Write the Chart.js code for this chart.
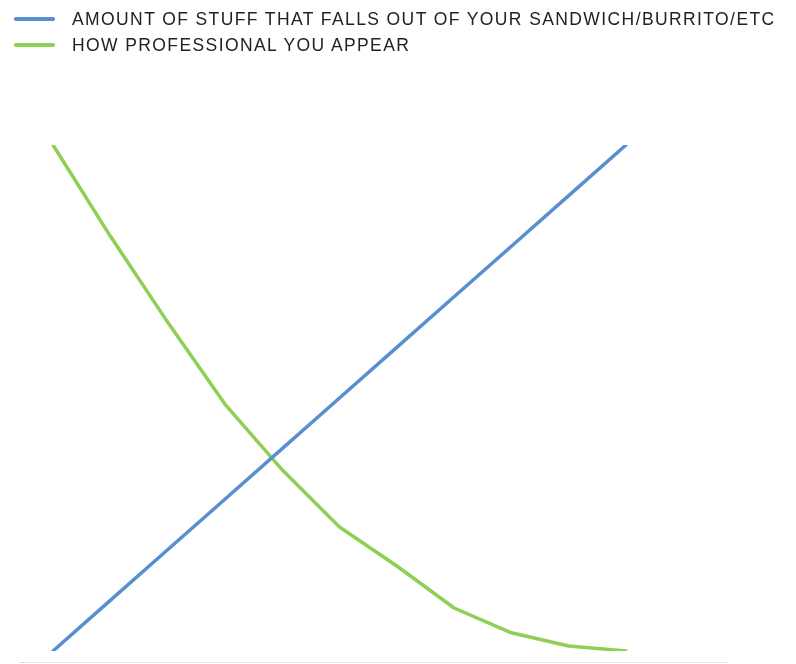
<!DOCTYPE html>
<html>
<head>
<meta charset="utf-8">
<script src="https://cdn.jsdelivr.net/npm/chart.js@4"></script>
<style>
  html, body { margin: 0; padding: 0; background: #fff; }
  #wrap { position: relative; width: 796px; height: 664px; overflow: hidden; }
  #legend { position: absolute; left: 14px; top: 6px; font-family: "Liberation Sans", Arial, sans-serif; font-size: 17.5px; letter-spacing: 1.4px; color: #222; white-space: nowrap; }
  .item { display: flex; align-items: center; height: 26px; }
  .sw { width: 41px; height: 3.5px; border-radius: 1.75px; margin-right: 17px; flex: none; }
  #baseline { position: absolute; left: 20px; width: 708px; top: 662px; border-top: 1px dotted #c8c8c8; }
  canvas { position: absolute; left: 0; top: 0; }
</style>
</head>
<body>
<div id="wrap">
  <canvas id="c" width="796" height="664"></canvas>
  <div id="legend"></div>
  <div id="baseline"></div>
</div>
<script>
const categories = ["0","1","2","3","4","5","6","7","8","9","10"];
const stuffFallsOut = [0, 1, 2, 3, 4, 5, 6, 7, 8, 9, 10];
const professional = [10, 8.2, 6.5, 4.88, 3.58, 2.45, 1.68, 0.85, 0.36, 0.1, 0];
const seriesNames = ["AMOUNT OF STUFF THAT FALLS OUT OF YOUR SANDWICH/BURRITO/ETC", "HOW PROFESSIONAL YOU APPEAR"];
const seriesColors = ["#5a8fcf", "#8ecf55"];

const chart = new Chart(document.getElementById('c'), {
  type: 'line',
  data: {
    labels: categories,
    datasets: [
      { label: seriesNames[0], data: stuffFallsOut, borderColor: seriesColors[0], backgroundColor: seriesColors[0], borderWidth: 3.5, pointRadius: 0, tension: 0, borderCapStyle: 'round', borderJoinStyle: 'round' },
      { label: seriesNames[1], data: professional, borderColor: seriesColors[1], backgroundColor: seriesColors[1], borderWidth: 3.5, pointRadius: 0, tension: 0, borderCapStyle: 'round', borderJoinStyle: 'round' }
    ]
  },
  options: {
    responsive: false,
    animation: false,
    layout: { padding: { left: 53, right: 170, top: 145, bottom: 13 } },
    plugins: { legend: { display: false }, tooltip: { enabled: false } },
    scales: {
      x: { display: false, offset: false },
      y: { display: false, min: 0, max: 10 }
    }
  }
});

const legend = document.getElementById('legend');
chart.data.datasets.forEach(ds => {
  const item = document.createElement('div');
  item.className = 'item';
  const sw = document.createElement('span');
  sw.className = 'sw';
  sw.style.background = ds.borderColor;
  const t = document.createElement('span');
  t.textContent = ds.label;
  item.appendChild(sw);
  item.appendChild(t);
  legend.appendChild(item);
});
</script>
</body>
</html>
